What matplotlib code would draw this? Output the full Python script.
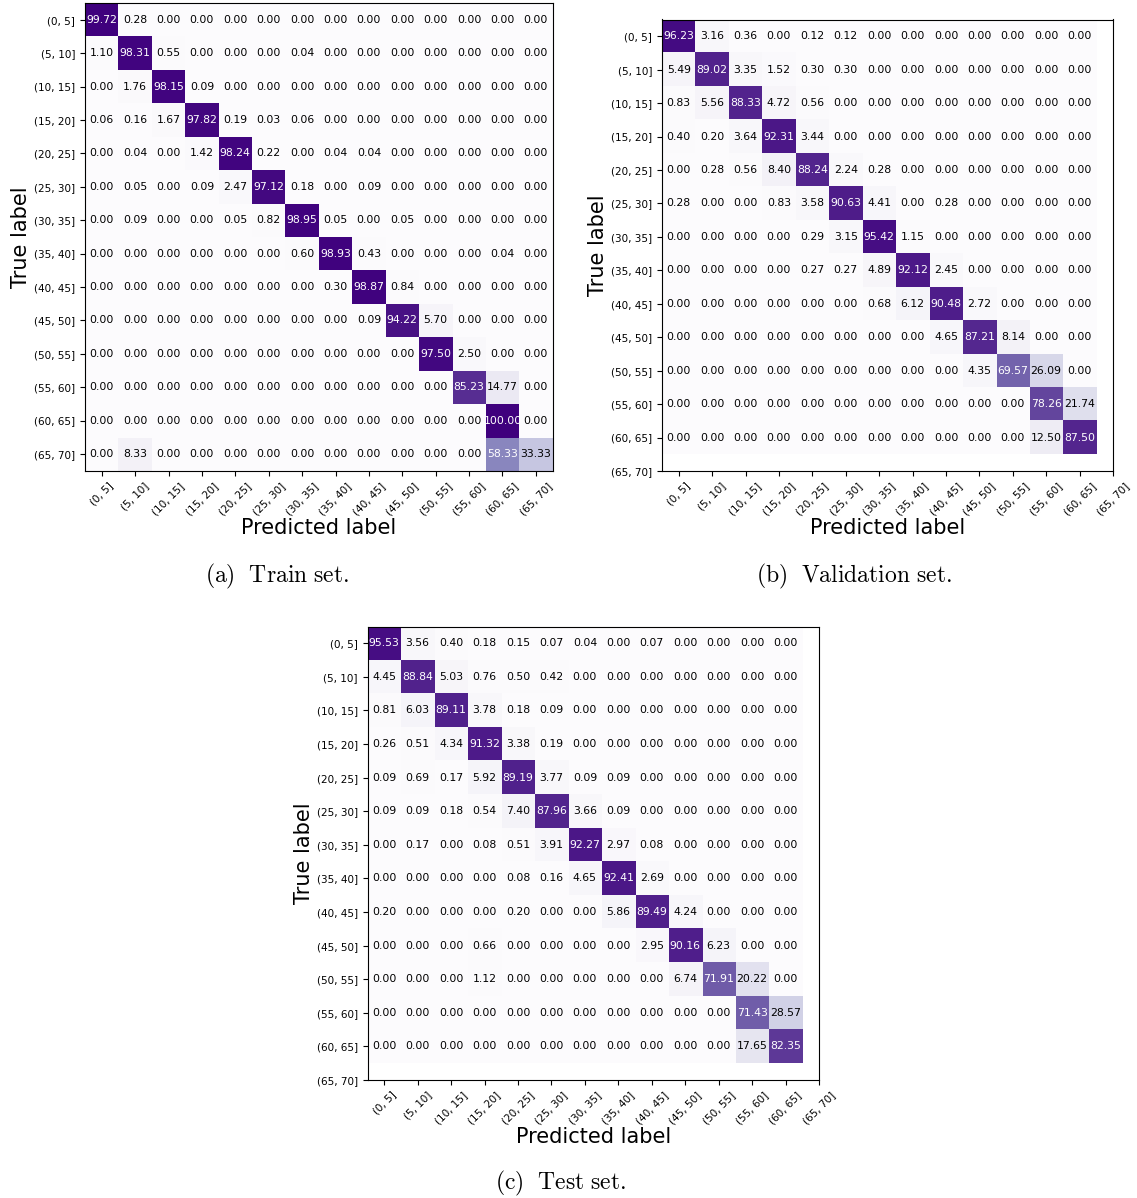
import matplotlib.pyplot as plt
import numpy as np

plt.rcParams['mathtext.fontset'] = 'cm'

labels = ['(0, 5]', '(5, 10]', '(10, 15]', '(15, 20]', '(20, 25]', '(25, 30]', '(30, 35]',
          '(35, 40]', '(40, 45]', '(45, 50]', '(50, 55]', '(55, 60]', '(60, 65]', '(65, 70]']

# train set, 14 x 14 (percent)
cm_train = [
    [99.72, 0.28, 0, 0, 0, 0, 0, 0, 0, 0, 0, 0, 0, 0],
    [1.10, 98.31, 0.55, 0, 0, 0, 0.04, 0, 0, 0, 0, 0, 0, 0],
    [0, 1.76, 98.15, 0.09, 0, 0, 0, 0, 0, 0, 0, 0, 0, 0],
    [0.06, 0.16, 1.67, 97.82, 0.19, 0.03, 0.06, 0, 0, 0, 0, 0, 0, 0],
    [0, 0.04, 0, 1.42, 98.24, 0.22, 0, 0.04, 0.04, 0, 0, 0, 0, 0],
    [0, 0.05, 0, 0.09, 2.47, 97.12, 0.18, 0, 0.09, 0, 0, 0, 0, 0],
    [0, 0.09, 0, 0, 0.05, 0.82, 98.95, 0.05, 0, 0.05, 0, 0, 0, 0],
    [0, 0, 0, 0, 0, 0, 0.60, 98.93, 0.43, 0, 0, 0, 0.04, 0],
    [0, 0, 0, 0, 0, 0, 0, 0.30, 98.87, 0.84, 0, 0, 0, 0],
    [0, 0, 0, 0, 0, 0, 0, 0, 0.09, 94.22, 5.70, 0, 0, 0],
    [0, 0, 0, 0, 0, 0, 0, 0, 0, 0, 97.50, 2.50, 0, 0],
    [0, 0, 0, 0, 0, 0, 0, 0, 0, 0, 0, 85.23, 14.77, 0],
    [0, 0, 0, 0, 0, 0, 0, 0, 0, 0, 0, 0, 100.00, 0],
    [0, 8.33, 0, 0, 0, 0, 0, 0, 0, 0, 0, 0, 58.33, 33.33],
]

# validation set, 13 x 13
cm_val = [
    [96.23, 3.16, 0.36, 0, 0.12, 0.12, 0, 0, 0, 0, 0, 0, 0],
    [5.49, 89.02, 3.35, 1.52, 0.30, 0.30, 0, 0, 0, 0, 0, 0, 0],
    [0.83, 5.56, 88.33, 4.72, 0.56, 0, 0, 0, 0, 0, 0, 0, 0],
    [0.40, 0.20, 3.64, 92.31, 3.44, 0, 0, 0, 0, 0, 0, 0, 0],
    [0, 0.28, 0.56, 8.40, 88.24, 2.24, 0.28, 0, 0, 0, 0, 0, 0],
    [0.28, 0, 0, 0.83, 3.58, 90.63, 4.41, 0, 0.28, 0, 0, 0, 0],
    [0, 0, 0, 0, 0.29, 3.15, 95.42, 1.15, 0, 0, 0, 0, 0],
    [0, 0, 0, 0, 0.27, 0.27, 4.89, 92.12, 2.45, 0, 0, 0, 0],
    [0, 0, 0, 0, 0, 0, 0.68, 6.12, 90.48, 2.72, 0, 0, 0],
    [0, 0, 0, 0, 0, 0, 0, 0, 4.65, 87.21, 8.14, 0, 0],
    [0, 0, 0, 0, 0, 0, 0, 0, 0, 4.35, 69.57, 26.09, 0],
    [0, 0, 0, 0, 0, 0, 0, 0, 0, 0, 0, 78.26, 21.74],
    [0, 0, 0, 0, 0, 0, 0, 0, 0, 0, 0, 12.50, 87.50],
]

# test set, 13 x 13
cm_test = [
    [95.53, 3.56, 0.40, 0.18, 0.15, 0.07, 0.04, 0, 0.07, 0, 0, 0, 0],
    [4.45, 88.84, 5.03, 0.76, 0.50, 0.42, 0, 0, 0, 0, 0, 0, 0],
    [0.81, 6.03, 89.11, 3.78, 0.18, 0.09, 0, 0, 0, 0, 0, 0, 0],
    [0.26, 0.51, 4.34, 91.32, 3.38, 0.19, 0, 0, 0, 0, 0, 0, 0],
    [0.09, 0.69, 0.17, 5.92, 89.19, 3.77, 0.09, 0.09, 0, 0, 0, 0, 0],
    [0.09, 0.09, 0.18, 0.54, 7.40, 87.96, 3.66, 0.09, 0, 0, 0, 0, 0],
    [0, 0.17, 0, 0.08, 0.51, 3.91, 92.27, 2.97, 0.08, 0, 0, 0, 0],
    [0, 0, 0, 0, 0.08, 0.16, 4.65, 92.41, 2.69, 0, 0, 0, 0],
    [0.20, 0, 0, 0, 0.20, 0, 0, 5.86, 89.49, 4.24, 0, 0, 0],
    [0, 0, 0, 0.66, 0, 0, 0, 0, 2.95, 90.16, 6.23, 0, 0],
    [0, 0, 0, 1.12, 0, 0, 0, 0, 0, 6.74, 71.91, 20.22, 0],
    [0, 0, 0, 0, 0, 0, 0, 0, 0, 0, 0, 71.43, 28.57],
    [0, 0, 0, 0, 0, 0, 0, 0, 0, 0, 0, 17.65, 82.35],
]

W, H = 1137, 1198
fig = plt.figure(figsize=(W / 100, H / 100), dpi=100)


def px_axes(left, top, right, bottom):
    return fig.add_axes([left / W, 1 - bottom / H, (right - left) / W, (bottom - top) / H])


def plot_cm(ax, cm):
    cm = np.array(cm)
    n = len(labels)
    ax.imshow(cm, interpolation='nearest', cmap='Purples', vmin=0, vmax=100, aspect='auto')
    ax.set_xticks(np.arange(n))
    ax.set_yticks(np.arange(n))
    ax.set_xticklabels(labels, rotation=45, ha='center', fontsize=7.5)
    ax.set_yticklabels(labels, fontsize=7.5)
    # 13x13 matrices still get 14 ticks, so the view runs out to the last tick
    ax.set_xlim(-0.5, n - 1 if cm.shape[0] < n else n - 0.5)
    ax.set_ylim(n - 1 if cm.shape[0] < n else n - 0.5, -0.5)
    thresh = cm.max() / 2.
    for i in range(cm.shape[0]):
        for j in range(cm.shape[1]):
            ax.text(j, i, format(cm[i, j], '.2f'), ha='center', va='center', fontsize=7.8,
                    color='white' if cm[i, j] > thresh else 'black')
    ax.set_xlabel('Predicted label', fontsize=15, labelpad=1)
    ax.set_ylabel('True label', fontsize=15, labelpad=2)


ax1 = px_axes(85, 3, 552.6, 470.7)
plot_cm(ax1, cm_train)
ax2 = px_axes(662, 19.5, 1113, 471)
plot_cm(ax2, cm_val)
ax3 = px_axes(367.5, 626.5, 819, 1080)
plot_cm(ax3, cm_test)

fig.text(277 / W, 1 - 576 / H, r'$\mathrm{(a)\ \ Train\ set.}$', ha='center', va='center', fontsize=17)
fig.text(854 / W, 1 - 576 / H, r'$\mathrm{(b)\ \ Validation\ set.}$', ha='center', va='center', fontsize=17)
fig.text(561 / W, 1 - 1183 / H, r'$\mathrm{(c)\ \ Test\ set.}$', ha='center', va='center', fontsize=17)

fig.savefig('out.png', dpi=100)
